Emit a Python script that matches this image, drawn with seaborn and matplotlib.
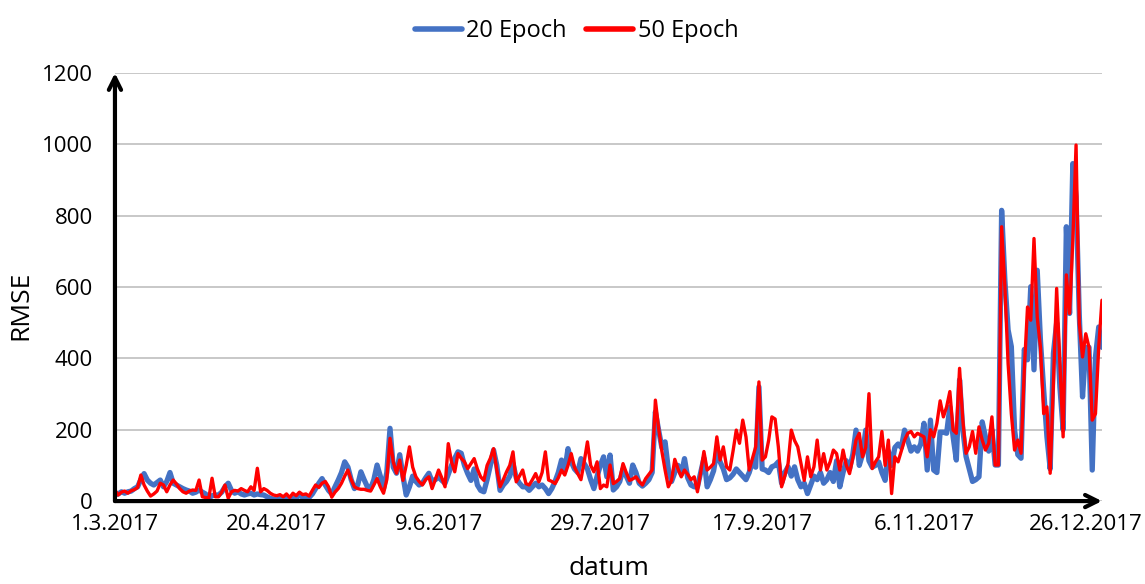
import matplotlib
matplotlib.use('Agg')
import matplotlib.pyplot as plt
import pandas as pd
import seaborn as sns

# daily RMSE values, 1.3.2017 - 31.12.2017
rmse_20 = [
    17, 20, 26, 22, 26, 28, 35, 40, 60, 77,
    59, 50, 45, 52, 59, 40, 55, 80, 50, 45,
    40, 35, 31, 28, 22, 25, 31, 25, 20, 8,
    15, 17, 17, 25, 40, 50, 30, 22, 26, 20,
    17, 20, 22, 17, 20, 18, 17, 12, 8, 5,
    3, 8, 5, 12, 5, 15, 8, 18, 10, 12,
    10, 20, 35, 50, 63, 45, 30, 20, 40, 59,
    80, 110, 95, 60, 35, 45, 82, 60, 40, 35,
    60, 101, 70, 35, 80, 204, 95, 78, 130, 70,
    17, 40, 70, 55, 45, 50, 65, 78, 55, 60,
    67, 58, 50, 75, 100, 120, 138, 134, 100, 77,
    58, 90, 45, 30, 26, 60, 100, 143, 100, 30,
    45, 55, 70, 105, 65, 50, 40, 40, 30, 40,
    50, 40, 45, 35, 21, 35, 55, 80, 115, 85,
    147, 110, 90, 80, 119, 105, 90, 60, 35, 70,
    100, 124, 68, 129, 31, 40, 55, 90, 70, 50,
    101, 80, 50, 42, 50, 60, 80, 250, 199, 150,
    166, 90, 55, 80, 100, 75, 119, 65, 45, 40,
    40, 80, 120, 40, 60, 85, 140, 110, 90, 60,
    65, 75, 90, 80, 70, 60, 80, 110, 95, 320,
    90, 87, 80, 96, 100, 110, 50, 80, 96, 70,
    96, 60, 40, 50, 21, 45, 70, 60, 80, 50,
    60, 80, 55, 113, 40, 80, 113, 90, 130, 199,
    100, 130, 199, 113, 95, 100, 110, 80, 58, 140,
    100, 150, 160, 150, 199, 170, 140, 152, 140, 160,
    218, 87, 227, 87, 80, 193, 193, 190, 264, 180,
    115, 340, 200, 125, 90, 55, 60, 68, 222, 180,
    140, 200, 101, 101, 815, 620, 480, 433, 200, 130,
    120, 425, 396, 601, 368, 647, 450, 311, 180, 90,
    414, 500, 320, 200, 769, 526, 946, 853, 520, 292,
    430, 431, 87, 404, 488, 431,
]

rmse_50 = [
    31, 17, 25, 28, 22, 29, 32, 38, 73, 45,
    28, 14, 20, 28, 50, 45, 26, 45, 59, 48,
    35, 26, 22, 28, 31, 30, 59, 12, 10, 8,
    64, 12, 12, 25, 45, 8, 26, 30, 28, 35,
    30, 26, 40, 30, 92, 26, 35, 30, 22, 17,
    15, 18, 12, 20, 10, 22, 15, 25, 18, 20,
    14, 30, 45, 38, 50, 55, 40, 11, 25, 35,
    50, 70, 87, 60, 40, 35, 33, 33, 30, 28,
    45, 63, 40, 22, 60, 176, 110, 78, 115, 58,
    100, 152, 95, 68, 55, 45, 60, 68, 35, 60,
    87, 65, 40, 161, 110, 82, 133, 120, 110, 91,
    105, 119, 90, 68, 58, 100, 120, 147, 87, 40,
    60, 82, 100, 138, 54, 70, 87, 49, 45, 60,
    77, 54, 80, 138, 59, 55, 49, 65, 87, 73,
    100, 133, 95, 77, 60, 110, 166, 100, 82, 110,
    35, 45, 40, 101, 49, 55, 63, 105, 80, 58,
    62, 68, 55, 45, 63, 75, 87, 283, 204, 140,
    87, 40, 58, 117, 90, 68, 87, 75, 60, 68,
    26, 80, 139, 87, 95, 105, 180, 115, 152, 96,
    87, 140, 199, 162, 227, 180, 87, 120, 152, 334,
    115, 124, 170, 236, 230, 152, 40, 70, 105, 199,
    170, 152, 105, 58, 124, 68, 96, 171, 87, 133,
    87, 110, 143, 133, 87, 143, 100, 77, 120, 171,
    190, 124, 150, 301, 91, 110, 124, 195, 100, 171,
    21, 124, 110, 140, 171, 190, 195, 180, 190, 185,
    180, 124, 200, 180, 218, 281, 236, 264, 307, 199,
    190, 372, 227, 134, 152, 195, 134, 208, 171, 143,
    162, 236, 101, 101, 769, 601, 385, 245, 143, 171,
    134, 367, 544, 507, 736, 515, 431, 245, 264, 78,
    330, 596, 385, 180, 634, 526, 731, 998, 498, 404,
    469, 431, 227, 245, 431, 563,
]

tick_labels = ['1.3.2017', '20.4.2017', '9.6.2017', '29.7.2017',
               '17.9.2017', '6.11.2017', '26.12.2017']
y_ticks = [0, 200, 400, 600, 800, 1000, 1200]

dates = pd.date_range('2017-03-01', periods=len(rmse_20), freq='D')
df = pd.DataFrame({'datum': dates, '20 Epoch': rmse_20, '50 Epoch': rmse_50})

sns.set_style('white')
plt.rcParams['font.family'] = ['Open Sans', 'DejaVu Sans']
plt.rcParams['text.color'] = 'black'
plt.rcParams['axes.labelcolor'] = 'black'
plt.rcParams['xtick.color'] = 'black'
plt.rcParams['ytick.color'] = 'black'

fig = plt.figure(figsize=(11.45, 5.84), dpi=100)
ax = fig.add_axes([0.1004, 0.142, 0.862, 0.733])

sns.lineplot(data=df, x='datum', y='20 Epoch', ax=ax, color='#4472C4',
             linewidth=3.8, label='20 Epoch')
sns.lineplot(data=df, x='datum', y='50 Epoch', ax=ax, color='#FF0000',
             linewidth=2.4, label='50 Epoch')

ax.set_xlim(dates[0], dates[-1])
ax.set_ylim(0, 1200)
ax.set_yticks(y_ticks)
ax.set_yticklabels([str(v) for v in y_ticks], fontsize=16)
ax.set_xticks(dates[::50])
ax.set_xticklabels(tick_labels, fontsize=16)
ax.tick_params(axis='y', length=0, pad=16)
ax.tick_params(axis='x', length=0, pad=9)

ax.grid(axis='y', color='#BFBFBF', linewidth=1.2)
ax.grid(axis='x', visible=False)
for s in ax.spines.values():
    s.set_visible(False)

# axes drawn as arrows
ax.annotate('', xy=(0, 1.0), xytext=(0, 0), xycoords='axes fraction',
            arrowprops=dict(arrowstyle='->', lw=3, color='black',
                            mutation_scale=22, shrinkA=0, shrinkB=0),
            annotation_clip=False)
ax.annotate('', xy=(1.0, 0), xytext=(0, 0), xycoords='axes fraction',
            arrowprops=dict(arrowstyle='->', lw=3, color='black',
                            mutation_scale=22, shrinkA=0, shrinkB=0),
            annotation_clip=False)

ax.set_xlabel('datum', fontsize=19)
ax.xaxis.set_label_coords(0.5, -0.128)
ax.set_ylabel('RMSE', fontsize=19)
ax.yaxis.set_label_coords(-0.083, 0.458)

leg = ax.legend(loc='lower center', bbox_to_anchor=(0.4676, 1.02), ncol=2,
                frameon=False, fontsize=17, handlelength=2.0,
                handletextpad=0.2, columnspacing=0.8)
for h in leg.get_lines():
    h.set_linewidth(4)

fig.savefig('out.png', dpi=100)
